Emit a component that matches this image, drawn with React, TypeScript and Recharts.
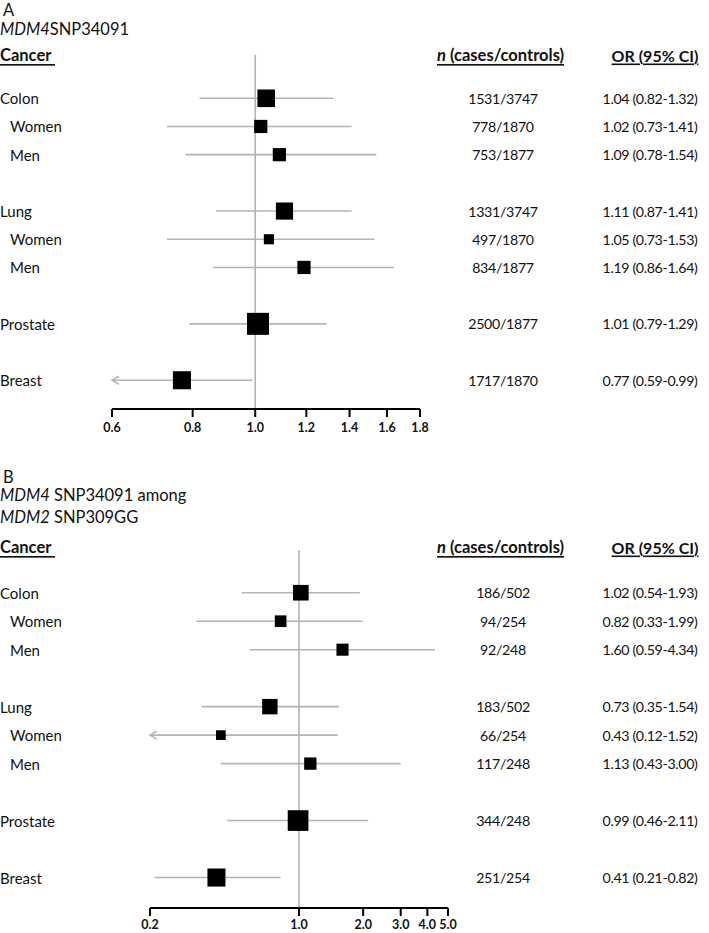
import React from 'react';
import { ComposedChart, Scatter, XAxis, YAxis, ReferenceLine, ReferenceDot, ErrorBar } from 'recharts';

const FONT = 'Lato, "Noto Sans", sans-serif';
const GREY = '#b4b4b4';

// ---------- Panel A data ----------
const labelsA = ['Colon', 'Women', 'Men', 'Lung', 'Women', 'Men', 'Prostate', 'Breast'];
const casesA = [1531, 778, 753, 1331, 497, 834, 2500, 1717];
const controlsA = [3747, 1870, 1877, 3747, 1870, 1877, 1877, 1870];
const orA = [1.04, 1.02, 1.09, 1.11, 1.05, 1.19, 1.01, 0.77];
const lowerA = [0.82, 0.73, 0.78, 0.87, 0.73, 0.86, 0.79, 0.59];
const upperA = [1.32, 1.41, 1.54, 1.41, 1.53, 1.64, 1.29, 0.99];
const weightA = [0.8, 0.6, 0.6, 0.78, 0.46, 0.6, 1.0, 0.82];
const ticksA = [0.6, 0.8, 1.0, 1.2, 1.4, 1.6, 1.8];

// ---------- Panel B data ----------
const labelsB = ['Colon', 'Women', 'Men', 'Lung', 'Women', 'Men', 'Prostate', 'Breast'];
const casesB = [186, 94, 92, 183, 66, 117, 344, 251];
const controlsB = [502, 254, 248, 502, 254, 248, 248, 254];
const orB = [1.02, 0.82, 1.6, 0.73, 0.43, 1.13, 0.99, 0.41];
const lowerB = [0.54, 0.33, 0.59, 0.35, 0.12, 0.43, 0.46, 0.21];
const upperB = [1.93, 1.99, 4.34, 1.54, 1.52, 3.0, 2.11, 0.82];
const weightB = [0.71, 0.53, 0.55, 0.7, 0.44, 0.56, 0.94, 0.82];
const ticksB = [0.2, 1.0, 2.0, 3.0, 4.0, 5.0];

const SUB = new Set(['Women', 'Men']);

function buildRows(labels: string[], cases: number[], controls: number[], or: number[], lower: number[], upper: number[], weight: number[], dMin: number) {
  let p = -1;
  return labels.map((label, i) => {
    p += i === 0 || SUB.has(label) ? 1 : 2;
    const lo = Math.max(lower[i], dMin);
    return {
      label,
      x: or[i],
      y: p,
      err: [or[i] - lo, upper[i] - or[i]],
      lo,
      clipped: lower[i] < dMin,
      weight: weight[i],
      n: `${cases[i]}/${controls[i]}`,
      orText: `${or[i].toFixed(2)} (${lower[i].toFixed(2)}-${upper[i].toFixed(2)})`,
      sub: SUB.has(label),
    };
  });
}

const LABEL_SIZE = 15;
const VALUE_SIZE = 14.2;
const N_X = 503;
const OR_X = 650;

const Square = (props: any) => {
  const { cx, cy, payload } = props;
  const s = payload.weight * 22;
  return <rect x={cx - s / 2} y={cy - s / 2} width={s} height={s} fill="#000" />;
};

const RowText = (props: any) => {
  const { cy, payload } = props;
  if (cy == null || !payload) return null;
  return (
    <g fontFamily={FONT} fill="#111">
      <text x={payload.sub ? 10 : 0} y={cy} fontSize={LABEL_SIZE} dominantBaseline="central" textAnchor="start">{payload.label}</text>
      <text x={N_X} y={cy} fontSize={VALUE_SIZE} letterSpacing={-0.3} dominantBaseline="central" textAnchor="middle">{payload.n}</text>
      <text x={OR_X} y={cy} fontSize={VALUE_SIZE} letterSpacing={-0.35} dominantBaseline="central" textAnchor="middle">{payload.orText}</text>
    </g>
  );
};

const Chevron = (props: any) => {
  const { cx, cy } = props;
  return (
    <path
      d={`M ${cx + 7} ${cy - 4} L ${cx} ${cy} L ${cx + 7} ${cy + 4}`}
      fill="none"
      stroke={GREY}
      strokeWidth={1.6}
    />
  );
};

function Panel(props: {
  rows: any[];
  ticks: number[];
  height: number;
  margin: any;
  yDomain: [number, number];
  tickMargin: number;
  xAxisHeight: number;
}) {
  const { rows, ticks, height, margin, yDomain, tickMargin, xAxisHeight } = props;
  const dMin = ticks[0];
  const dMax = ticks[ticks.length - 1];
  return (
    <ComposedChart width={709} height={height} data={rows} margin={margin}>
      <XAxis
        type="number"
        dataKey="x"
        scale="log"
        domain={[dMin, dMax]}
        ticks={ticks}
        interval={0}
        tickFormatter={(v: number) => v.toFixed(1)}
        height={xAxisHeight}
        axisLine={{ stroke: '#000', strokeWidth: 2 }}
        tickLine={{ stroke: '#000', strokeWidth: 2 }}
        tickSize={8}
        tickMargin={tickMargin}
        tick={{ fill: '#111', fontSize: 12.5, fontWeight: 700, fontFamily: FONT }}
      />
      <YAxis type="number" dataKey="y" domain={yDomain} reversed hide />
      <ReferenceLine x={1} stroke={GREY} strokeWidth={1.6} />
      {rows
        .filter((r) => r.clipped)
        .map((r, i) => (
          <ReferenceDot key={i} x={r.lo} y={r.y} r={4} shape={(p: any) => <Chevron {...p} />} />
        ))}
      <Scatter dataKey="x" isAnimationActive={false} shape={(p: any) => <RowText {...p} />} />
      <Scatter dataKey="x" isAnimationActive={false} shape={(p: any) => <Square {...p} />}>
        <ErrorBar dataKey="err" direction="x" width={0} stroke={GREY} strokeWidth={1.6} isAnimationActive={false} />
      </Scatter>
    </ComposedChart>
  );
}

const rowsA = buildRows(labelsA, casesA, controlsA, orA, lowerA, upperA, weightA, ticksA[0]);
const rowsB = buildRows(labelsB, casesB, controlsB, orB, lowerB, upperB, weightB, ticksB[0]);

const headerStyle: any = { fontFamily: FONT, fontSize: 16.5, fontWeight: 700, fill: '#111', textDecoration: 'underline', whiteSpace: 'pre' };

function Headers({ y }: { y: number }) {
  return (
    <g>
      <text x={0} y={y} dominantBaseline="central" style={headerStyle}>{'Cancer '}</text>
      <text x={437} y={y} dominantBaseline="central" style={headerStyle}>
        <tspan fontStyle="italic">n</tspan>
        {' (cases/controls)'}
      </text>
      <text x={655} y={y} dominantBaseline="central" textAnchor="middle" style={{ ...headerStyle, fontSize: 16 }}>OR (95% CI)</text>
    </g>
  );
}

export default function App() {
  const titleStyle: any = { fontFamily: FONT, fontSize: 16.5, fill: '#111' };
  return (
    <div style={{ position: 'absolute', left: 0, top: 0, width: 709, height: 933, overflow: 'hidden', background: '#fff' }}>
      <div style={{ position: 'absolute', left: 0, top: 0 }}>
        <Panel
          rows={rowsA}
          ticks={ticksA}
          height={440}
          margin={{ top: 55, right: 289, bottom: 1, left: 112 }}
          yDomain={[-1.535, 11.02]}
          tickMargin={6}
          xAxisHeight={30}
        />
      </div>
      <div style={{ position: 'absolute', left: 0, top: 440 }}>
        <Panel
          rows={rowsB}
          ticks={ticksB}
          height={493}
          margin={{ top: 110, right: 261, bottom: 5, left: 150 }}
          yDomain={[-1.5, 11.07]}
          tickMargin={4}
          xAxisHeight={20}
        />
      </div>
      <svg width={709} height={933} style={{ position: 'absolute', left: 0, top: 0, pointerEvents: 'none' }}>
        <text x={3} y={10} dominantBaseline="central" style={titleStyle}>A</text>
        <text x={0} y={29} dominantBaseline="central" style={titleStyle}>
          <tspan fontStyle="italic">MDM4</tspan>SNP34091
        </text>
        <Headers y={55} />
        <text x={3} y={477} dominantBaseline="central" style={titleStyle}>B</text>
        <text x={0} y={495} dominantBaseline="central" style={titleStyle}>
          <tspan fontStyle="italic">MDM4</tspan> SNP34091 among
        </text>
        <text x={0} y={517} dominantBaseline="central" style={titleStyle}>
          <tspan fontStyle="italic">MDM2</tspan> SNP309GG
        </text>
        <Headers y={547} />
      </svg>
    </div>
  );
}
